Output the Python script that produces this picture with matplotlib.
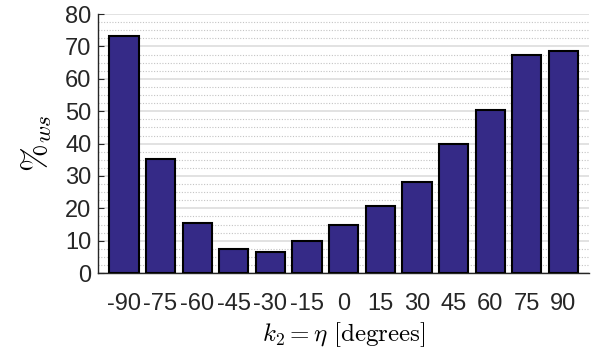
import matplotlib
matplotlib.use("Agg")
from matplotlib import pyplot as plt
from matplotlib.ticker import MultipleLocator

angles = [-90, -75, -60, -45, -30, -15, 0, 15, 30, 45, 60, 75, 90]
values = [73.1, 35.3, 15.5, 7.5, 6.6, 9.8, 14.9, 20.8, 28.0, 39.8, 50.5, 67.5, 68.6]
tick_labels = [str(a) for a in angles]

plt.rcParams['font.family'] = ['Liberation Sans', 'DejaVu Sans']
plt.rcParams['mathtext.fontset'] = 'cm'

fig = plt.figure(figsize=(5.92, 3.52), dpi=100)
ax = fig.add_axes([0.166, 0.224, 0.829, 0.736])

ax.bar(angles, values, width=12, color='#352A87', edgecolor='black', linewidth=1.5, zorder=3)

ax.set_xlim(-100.5, 100.5)
ax.set_ylim(0, 80)
ax.set_xticks(angles)
ax.set_xticklabels(tick_labels)
ax.yaxis.set_major_locator(MultipleLocator(10))
ax.yaxis.set_minor_locator(MultipleLocator(2.5))

ax.grid(axis='y', which='major', color='#dddddd', linewidth=1.2, zorder=0)
ax.grid(axis='y', which='minor', color='#c4c4c4', linestyle=(0, (1, 1.5)), linewidth=0.8, zorder=0)

for s in ['top', 'right']:
    ax.spines[s].set_visible(False)
for s in ['left', 'bottom']:
    ax.spines[s].set_color('#262626')
    ax.spines[s].set_linewidth(1.0)

ax.tick_params(axis='y', which='major', direction='in', length=4, labelsize=17, colors='#262626', pad=5)
ax.tick_params(axis='y', which='minor', length=0)
ax.tick_params(axis='x', length=0, labelsize=17, colors='#262626', pad=14)

ax.set_ylabel(r'$\%_{ws}$', fontsize=24, labelpad=8)
ax.set_xlabel(r'$k_2 = \eta\ \mathrm{[degrees]}$', fontsize=18, labelpad=4)

plt.savefig('out.png', dpi=100)
